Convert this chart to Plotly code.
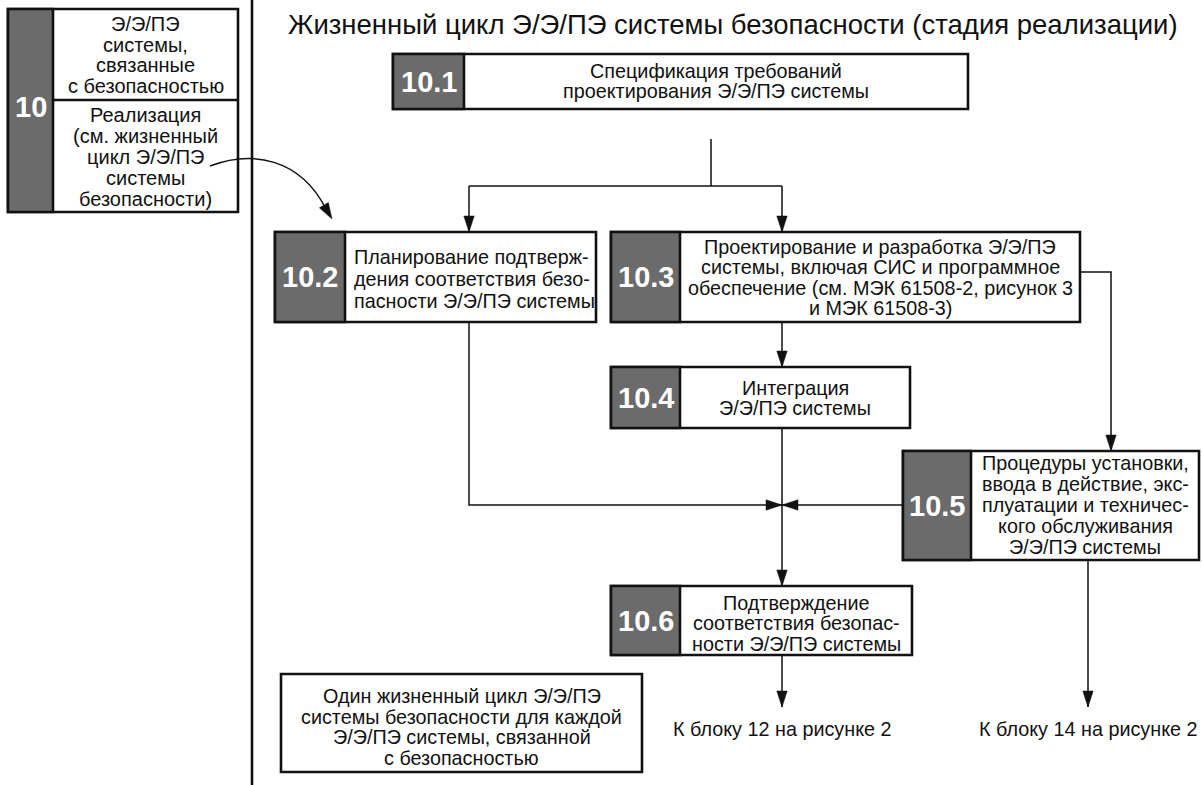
import plotly.graph_objects as go

# ---------------- data (texts) ----------------
title_text = "Жизненный цикл Э/Э/ПЭ системы безопасности (стадия реализации)"

stage_number = "10"
stage_top_lines = ["Э/Э/ПЭ", "системы,", "связанные", "с безопасностью"]
stage_bottom_lines = ["Реализация", "(см. жизненный", "цикл Э/Э/ПЭ", "системы", "безопасности)"]

block_numbers = ["10.1", "10.2", "10.3", "10.4", "10.5", "10.6"]
block_lines = [
    ["Спецификация требований", "проектирования Э/Э/ПЭ системы"],
    ["Планирование подтверж-", "дения соответствия безо-", "пасности Э/Э/ПЭ системы"],
    ["Проектирование и разработка Э/Э/ПЭ", "системы, включая СИС и программное",
     "обеспечение (см. МЭК 61508-2, рисунок 3", "и МЭК 61508-3)"],
    ["Интеграция", "Э/Э/ПЭ системы"],
    ["Процедуры установки,", "ввода в действие, экс-", "плуатации и техничес-",
     "кого обслуживания", "Э/Э/ПЭ системы"],
    ["Подтверждение", "соответствия безопас-", "ности Э/Э/ПЭ системы"],
]
block_align = ["center", "left", "center", "center", "center", "center"]

note_lines = ["Один жизненный цикл Э/Э/ПЭ", "системы безопасности для каждой",
              "Э/Э/ПЭ системы, связанной", "с безопасностью"]
exit_labels = ["К блоку 12 на рисунке 2", "К блоку 14 на рисунке 2"]

# ---------------- layout geometry (pixels) ----------------
W, H = 1202, 785
FONT = "Liberation Sans, Arial, sans-serif"
TXT = 19.8
INK = "#111111"
GRAY = "#6b6b6b"
BORDER = 2.6
LW = 1.5

# x0, x1, y0, y1, gray_right, text_center_y, line_spacing
block_geom = {
    "10.1": (393, 968, 54, 109, 464, 81, 20.3),
    "10.2": (275, 596, 232, 322, 345, 279, 22),
    "10.3": (611, 1080, 232, 322, 680, 277.5, 20.5),
    "10.4": (611, 910, 367, 428, 680, 398, 20.5),
    "10.5": (903, 1199, 451, 560, 971, 505, 20.8),
    "10.6": (611, 912, 586, 655, 680, 623, 20.5),
}
stage_geom = (8, 238, 9, 212, 53, 100)  # x0,x1,y0,y1,gray_right,divider_y
note_geom = (281, 642, 674, 772, 727, 20.4)

shapes = []
annotations = []


def rect(x0, x1, y0, y1, fill="white", lw=BORDER):
    shapes.append(dict(type="rect", x0=x0, x1=x1, y0=y0, y1=y1, xref="x", yref="y",
                       fillcolor=fill, line=dict(color=INK, width=lw), layer="above"))


def seg(points, width=LW):
    path = "M " + " L ".join(f"{x},{y}" for x, y in points)
    shapes.append(dict(type="path", path=path, xref="x", yref="y",
                       line=dict(color=INK, width=width), layer="above"))


def head(tx, ty, dx, dy, L=16, w=5.2):
    n = (dx * dx + dy * dy) ** 0.5
    dx, dy = dx / n, dy / n
    bx, by = tx - L * dx, ty - L * dy
    px, py = -dy, dx
    path = (f"M {tx},{ty} L {bx + w * px},{by + w * py} "
            f"L {bx - w * px},{by - w * py} Z")
    shapes.append(dict(type="path", path=path, xref="x", yref="y",
                       fillcolor=INK, line=dict(color=INK, width=0.5), layer="above"))


def arrow(points):
    seg(points)
    (x0, y0), (x1, y1) = points[-2], points[-1]
    head(x1, y1, x1 - x0, y1 - y0)


def text(x, y, s, size=TXT, color=INK, bold=False, anchor="center"):
    annotations.append(dict(x=x, y=y, xref="x", yref="y", text=s, showarrow=False,
                            xanchor=anchor, yanchor="middle",
                            font=dict(family=FONT, size=size, color=color,
                                      weight="bold" if bold else "normal")))


def lines_block(x, yc, sp, lines, anchor="center", size=TXT):
    n = len(lines)
    for i, s in enumerate(lines):
        text(x, yc + (i - (n - 1) / 2) * sp, s, anchor=anchor, size=size)


# ---------------- stage box (left) ----------------
sx0, sx1, sy0, sy1, sg, sdiv = stage_geom
rect(sx0, sx1, sy0, sy1)
rect(sx0, sg, sy0, sy1, fill=GRAY)
seg([(sg, sdiv), (sx1, sdiv)], width=BORDER)
text((sx0 + sg) / 2, 107, stage_number, size=29, color="white", bold=True)
lines_block((sg + sx1) / 2, 55, 20.8, stage_top_lines, size=20)
lines_block((sg + sx1) / 2, 157, 20.9, stage_bottom_lines, size=20)

# separator line
seg([(252, 0), (252, H)], width=BORDER)

# title
text(733, 24, title_text, size=27.5)

# ---------------- blocks ----------------
for num, lines, al in zip(block_numbers, block_lines, block_align):
    x0, x1, y0, y1, g, yc, sp = block_geom[num]
    rect(x0, x1, y0, y1)
    rect(x0, g, y0, y1, fill=GRAY)
    text((x0 + g) / 2, (y0 + y1) / 2, num, size=29, color="white", bold=True)
    if al == "left":
        lines_block(g + 7, yc, sp, lines, anchor="left")
    else:
        lines_block((g + x1) / 2, yc, sp, lines)

# note box
nx0, nx1, ny0, ny1, nyc, nsp = note_geom
rect(nx0, nx1, ny0, ny1)
lines_block((nx0 + nx1) / 2, nyc, nsp, note_lines)

# ---------------- connectors ----------------
b = block_geom
xa = 469   # column under 10.2
xb = 782   # main column
seg([(711, 139), (711, 186)])
seg([(xa, 186), (xb, 186)])
arrow([(xa, 186), (xa, b["10.2"][2])])
arrow([(xb, 186), (xb, b["10.3"][2])])
arrow([(xb, b["10.3"][3]), (xb, b["10.4"][2])])
arrow([(b["10.3"][1], 272), (1111, 272), (1111, b["10.5"][2])])
arrow([(xa, b["10.2"][3]), (xa, 505), (xb, 505)])
arrow([(b["10.5"][0], 505), (xb, 505)])
arrow([(xb, b["10.4"][3]), (xb, b["10.6"][2])])
arrow([(xb, b["10.6"][3]), (xb, 707)])
arrow([(1088, b["10.5"][3]), (1088, 707)])

# curved arrow from stage box to 10.2
shapes.append(dict(type="path", path="M 210,166 C 252,150 300,158 326,209",
                   xref="x", yref="y", line=dict(color=INK, width=LW), layer="above"))
head(332, 219, 326 - 316, 209 - 192)

# exit labels
text(xb, 729, exit_labels[0])
text(1088, 729, exit_labels[1])

fig = go.Figure()
fig.update_layout(
    width=W, height=H, autosize=False,
    margin=dict(l=0, r=0, t=0, b=0),
    paper_bgcolor="white", plot_bgcolor="white",
    xaxis=dict(range=[0, W], visible=False, fixedrange=True),
    yaxis=dict(range=[H, 0], visible=False, fixedrange=True),
    shapes=shapes, annotations=annotations, showlegend=False,
)
fig.write_html("out.html", config={"displayModeBar": False},
               post_script="document.body.style.margin='0';document.body.style.overflow='hidden';")
